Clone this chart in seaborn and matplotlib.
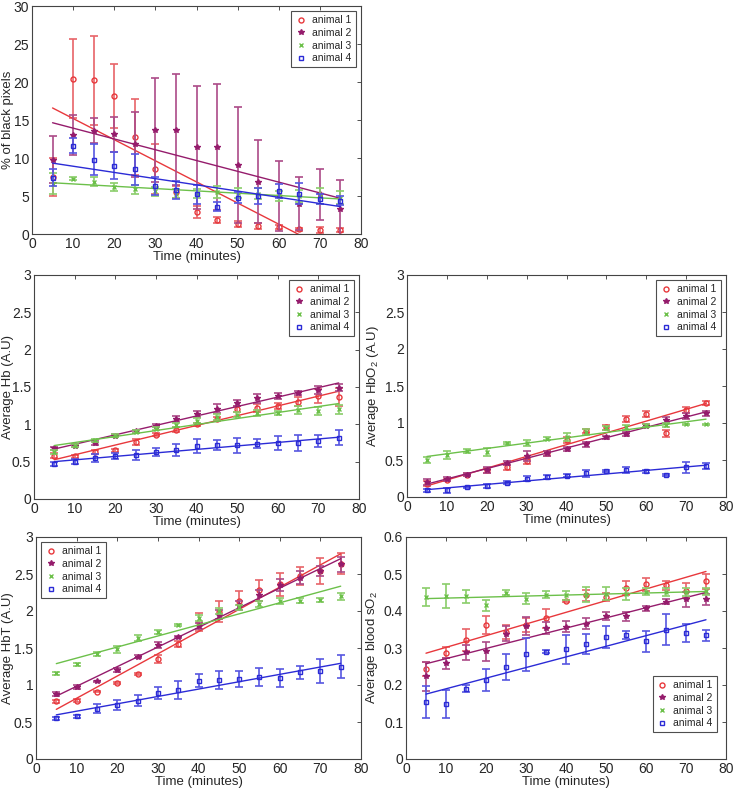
import numpy as np
import pandas as pd
import matplotlib
matplotlib.use('Agg')
import matplotlib.pyplot as plt
import matplotlib.ticker as mticker
import matplotlib.transforms as mtransforms
import seaborn as sns

# ── data ──────────────────────────────────────────────────────────────
time_min = [5, 10, 15, 20, 25, 30, 35, 40, 45, 50, 55, 60, 65, 70, 75]
animals = ['animal 1', 'animal 2', 'animal 3', 'animal 4']

# % of black pixels
black_a1 = [7.5, 20.4, 20.2, 18.2, 12.8, 8.6, 5.5, 2.9, 1.9, 1.3, 1.0, 0.9, 0.6, 0.5, 0.5]
black_a1_err = [2.5, 5.2, 5.8, 4.2, 5.0, 3.3, 0.8, 0.8, 0.4, 0.4, 0.4, 0.3, 0.2, 0.4, 0.3]
black_a2 = [9.8, 13.0, 13.6, 13.1, 11.8, 13.7, 13.7, 11.4, 11.4, 9.1, 6.9, 5.0, 4.0, 5.2, 3.3]
black_a2_err = [3.1, 2.6, 1.6, 2.3, 4.3, 6.8, 7.3, 8.1, 8.3, 7.6, 5.5, 4.6, 3.5, 3.4, 3.8]
black_a3 = [6.6, 7.3, 6.9, 6.2, 5.9, 5.6, 5.3, 5.3, 5.5, 5.4, 5.3, 5.0, 5.0, 5.0, 4.8]
black_a3_err = [1.4, 0.2, 0.6, 0.5, 0.6, 0.6, 0.6, 0.6, 0.8, 0.6, 0.7, 0.7, 0.8, 1.1, 0.8]
black_a4 = [7.4, 11.6, 9.8, 9.0, 8.5, 6.3, 5.8, 5.2, 3.6, 4.8, 5.0, 5.7, 5.3, 4.6, 4.4]
black_a4_err = [1.1, 1.0, 2.1, 1.8, 2.0, 1.2, 1.2, 1.2, 0.6, 0.7, 1.1, 0.9, 1.4, 0.7, 0.6]

# Average Hb
hb_a1 = [0.58, 0.57, 0.63, 0.65, 0.76, 0.86, 0.93, 1.00, 1.07, 1.20, 1.22, 1.25, 1.30, 1.38, 1.37]
hb_a1_err = [0.03, 0.02, 0.03, 0.02, 0.04, 0.02, 0.03, 0.02, 0.03, 0.04, 0.05, 0.04, 0.06, 0.09, 0.12]
hb_a2 = [0.68, 0.71, 0.75, 0.85, 0.91, 0.98, 1.07, 1.14, 1.21, 1.28, 1.35, 1.38, 1.42, 1.46, 1.49]
hb_a2_err = [0.02, 0.02, 0.03, 0.02, 0.02, 0.02, 0.04, 0.04, 0.06, 0.04, 0.06, 0.04, 0.03, 0.05, 0.05]
hb_a3 = [0.63, 0.71, 0.79, 0.85, 0.90, 0.94, 0.99, 1.05, 1.10, 1.13, 1.15, 1.15, 1.19, 1.18, 1.20]
hb_a3_err = [0.03, 0.02, 0.02, 0.02, 0.02, 0.02, 0.03, 0.03, 0.04, 0.03, 0.04, 0.03, 0.05, 0.05, 0.06]
hb_a4 = [0.47, 0.50, 0.55, 0.57, 0.59, 0.63, 0.66, 0.71, 0.72, 0.72, 0.74, 0.75, 0.75, 0.78, 0.82]
hb_a4_err = [0.03, 0.03, 0.05, 0.04, 0.07, 0.05, 0.08, 0.09, 0.07, 0.10, 0.06, 0.09, 0.11, 0.08, 0.10]

# Average HbO2
hbo2_a1 = [0.18, 0.23, 0.30, 0.36, 0.40, 0.48, 0.59, 0.77, 0.89, 0.94, 1.05, 1.12, 0.86, 1.17, 1.27]
hbo2_a1_err = [0.03, 0.02, 0.02, 0.03, 0.03, 0.04, 0.03, 0.04, 0.03, 0.03, 0.04, 0.04, 0.05, 0.04, 0.03]
hbo2_a2 = [0.20, 0.24, 0.30, 0.36, 0.46, 0.55, 0.59, 0.65, 0.71, 0.81, 0.85, 0.96, 1.04, 1.09, 1.13]
hbo2_a2_err = [0.04, 0.03, 0.02, 0.04, 0.03, 0.07, 0.03, 0.03, 0.03, 0.02, 0.03, 0.02, 0.04, 0.04, 0.03]
hbo2_a3 = [0.50, 0.57, 0.62, 0.61, 0.73, 0.73, 0.79, 0.81, 0.88, 0.93, 0.94, 0.96, 0.97, 0.98, 0.98]
hbo2_a3_err = [0.04, 0.05, 0.03, 0.05, 0.02, 0.04, 0.02, 0.05, 0.04, 0.03, 0.03, 0.02, 0.03, 0.01, 0.01]
hbo2_a4 = [0.09, 0.09, 0.13, 0.15, 0.19, 0.25, 0.27, 0.29, 0.32, 0.35, 0.37, 0.35, 0.30, 0.40, 0.42]
hbo2_a4_err = [0.02, 0.03, 0.01, 0.03, 0.02, 0.04, 0.03, 0.02, 0.05, 0.01, 0.04, 0.02, 0.01, 0.07, 0.04]

# Average HbT
hbt_a1 = [0.78, 0.79, 0.91, 1.03, 1.15, 1.35, 1.55, 1.85, 1.99, 2.14, 2.28, 2.36, 2.47, 2.54, 2.64]
hbt_a1_err = [0.02, 0.02, 0.01, 0.01, 0.01, 0.05, 0.04, 0.12, 0.14, 0.13, 0.14, 0.16, 0.12, 0.17, 0.14]
hbt_a2 = [0.88, 0.97, 1.05, 1.20, 1.38, 1.54, 1.65, 1.80, 1.95, 2.08, 2.21, 2.35, 2.45, 2.54, 2.63]
hbt_a2_err = [0.03, 0.03, 0.01, 0.03, 0.02, 0.04, 0.01, 0.04, 0.06, 0.06, 0.07, 0.08, 0.09, 0.07, 0.10]
hbt_a3 = [1.16, 1.28, 1.42, 1.48, 1.64, 1.72, 1.81, 1.90, 2.00, 2.05, 2.10, 2.13, 2.14, 2.15, 2.20]
hbt_a3_err = [0.02, 0.02, 0.03, 0.05, 0.04, 0.03, 0.01, 0.04, 0.04, 0.03, 0.04, 0.04, 0.03, 0.03, 0.05]
hbt_a4 = [0.55, 0.58, 0.68, 0.73, 0.79, 0.89, 0.93, 1.06, 1.07, 1.08, 1.11, 1.09, 1.17, 1.19, 1.25]
hbt_a4_err = [0.02, 0.02, 0.06, 0.07, 0.08, 0.08, 0.12, 0.09, 0.12, 0.11, 0.12, 0.12, 0.09, 0.16, 0.16]

# Average blood sO2
so2_a1 = [0.243, 0.287, 0.322, 0.362, 0.343, 0.362, 0.380, 0.427, 0.443, 0.438, 0.462, 0.472, 0.470, 0.455, 0.480]
so2_a1_err = [0.02, 0.015, 0.03, 0.025, 0.02, 0.02, 0.025, 0.003, 0.015, 0.01, 0.02, 0.018, 0.012, 0.02, 0.02]
so2_a2 = [0.223, 0.259, 0.288, 0.291, 0.339, 0.360, 0.354, 0.358, 0.366, 0.387, 0.386, 0.407, 0.425, 0.432, 0.432]
so2_a2_err = [0.04, 0.015, 0.02, 0.025, 0.02, 0.025, 0.015, 0.015, 0.015, 0.01, 0.012, 0.006, 0.007, 0.02, 0.015]
so2_a3 = [0.438, 0.440, 0.440, 0.416, 0.450, 0.433, 0.444, 0.442, 0.444, 0.447, 0.446, 0.452, 0.451, 0.451, 0.453]
so2_a3_err = [0.025, 0.032, 0.018, 0.015, 0.007, 0.015, 0.01, 0.012, 0.02, 0.018, 0.015, 0.01, 0.01, 0.01, 0.01]
so2_a4 = [0.153, 0.148, 0.190, 0.213, 0.248, 0.283, 0.290, 0.296, 0.310, 0.329, 0.335, 0.318, 0.350, 0.340, 0.335]
so2_a4_err = [0.043, 0.038, 0.01, 0.03, 0.035, 0.045, 0.004, 0.038, 0.027, 0.03, 0.01, 0.028, 0.042, 0.024, 0.015]

# ── styling ───────────────────────────────────────────────────────────
COLORS = ['#e8383c', '#951c6c', '#6cc04a', '#2b2bd6']
ERR_COLORS = ['#e86468', '#ab4a88', '#8acd6a', '#5656e0']
MARKERS = ['o', '*', 'x', 's']
MSIZE = [3.6, 4.2, 3.2, 3.2]

sns.set_theme(style='white')
plt.rcParams['font.family'] = ['Liberation Sans', 'DejaVu Sans']
plt.rcParams['mathtext.fontset'] = 'custom'
plt.rcParams['mathtext.rm'] = 'Liberation Sans'
plt.rcParams['mathtext.it'] = 'Liberation Sans'

W, H = 735, 795


def draw_panel(ax, series, errs, ylabel, ylim, ystep, legend_loc, label_x,
               legend_anchor=None):
    for i, (vals, err) in enumerate(zip(series, errs)):
        df = pd.DataFrame({'time': time_min, 'value': vals})
        ax.errorbar(time_min, vals, yerr=err, fmt='none',
                    ecolor=ERR_COLORS[i], elinewidth=1.2, capsize=2.8, capthick=1.2)
        sns.regplot(data=df, x='time', y='value', ax=ax, scatter=False, ci=None,
                    truncate=True, line_kws={'color': COLORS[i], 'lw': 1.0})
        filled = MARKERS[i] in ('*', 'x')
        ax.plot(time_min, vals, ls='none', marker=MARKERS[i], ms=MSIZE[i],
                mec=COLORS[i], mfc=COLORS[i] if filled else 'none',
                mew=1.0, label=animals[i])
    ax.set_xlim(0, 80)
    ax.set_ylim(*ylim)
    ax.xaxis.set_major_locator(mticker.MultipleLocator(10))
    ax.yaxis.set_major_locator(mticker.MultipleLocator(ystep))
    ax.yaxis.set_major_formatter(mticker.FormatStrFormatter('%g'))
    ax.tick_params(direction='in', top=True, right=True, length=3,
                   width=0.6, labelsize=10, pad=2, color='#333333')
    for s in ax.spines.values():
        s.set_color('#444444')
        s.set_linewidth(0.8)
    ax.set_xlabel('Time (minutes)', fontsize=9.5, labelpad=0)
    ax.set_ylabel(ylabel, fontsize=9.5)
    # y label pinned at a fixed figure x (right edge of the rotated text)
    trans = mtransforms.blended_transform_factory(fig.transFigure, ax.transAxes)
    ax.yaxis.set_label_coords(label_x / W, 0.5, transform=trans)
    leg_kw = dict(loc=legend_loc, fontsize=7.5, frameon=True, fancybox=False,
                  handlelength=1.0, handletextpad=0.6, borderpad=0.4,
                  labelspacing=0.25, borderaxespad=0.5)
    if legend_anchor is not None:
        leg_kw.update(bbox_to_anchor=legend_anchor, borderaxespad=0)
    leg = ax.legend(**leg_kw)
    leg.get_frame().set_edgecolor('#222222')
    leg.get_frame().set_linewidth(0.8)


def add_axes(left, top, right, bottom):
    return fig.add_axes([left / W, (H - bottom) / H, (right - left) / W, (bottom - top) / H])


fig = plt.figure(figsize=(W / 100, H / 100), dpi=100)

ax1 = add_axes(32, 6, 361, 234)
draw_panel(ax1, [black_a1, black_a2, black_a3, black_a4],
           [black_a1_err, black_a2_err, black_a3_err, black_a4_err],
           '% of black pixels', (0, 30), 5, 'upper right', 14)

ax2 = add_axes(34, 275, 359, 499)
draw_panel(ax2, [hb_a1, hb_a2, hb_a3, hb_a4],
           [hb_a1_err, hb_a2_err, hb_a3_err, hb_a4_err],
           'Average Hb (A.U)', (0, 3), 0.5, 'upper right', 14)

ax3 = add_axes(407, 275, 726, 497)
draw_panel(ax3, [hbo2_a1, hbo2_a2, hbo2_a3, hbo2_a4],
           [hbo2_a1_err, hbo2_a2_err, hbo2_a3_err, hbo2_a4_err],
           'Average HbO$_2$ (A.U)', (0, 3), 0.5, 'upper right', 381)

ax4 = add_axes(36, 537, 361, 759)
draw_panel(ax4, [hbt_a1, hbt_a2, hbt_a3, hbt_a4],
           [hbt_a1_err, hbt_a2_err, hbt_a3_err, hbt_a4_err],
           'Average HbT (A.U)', (0, 3), 0.5, 'upper left', 14)

ax5 = add_axes(406, 537, 726, 759)
draw_panel(ax5, [so2_a1, so2_a2, so2_a3, so2_a4],
           [so2_a1_err, so2_a2_err, so2_a3_err, so2_a4_err],
           'Average blood sO$_2$', (0, 0.6), 0.1, 'lower right', 380,
           legend_anchor=(0.972, 0.12))

fig.savefig('out.png', dpi=100)
